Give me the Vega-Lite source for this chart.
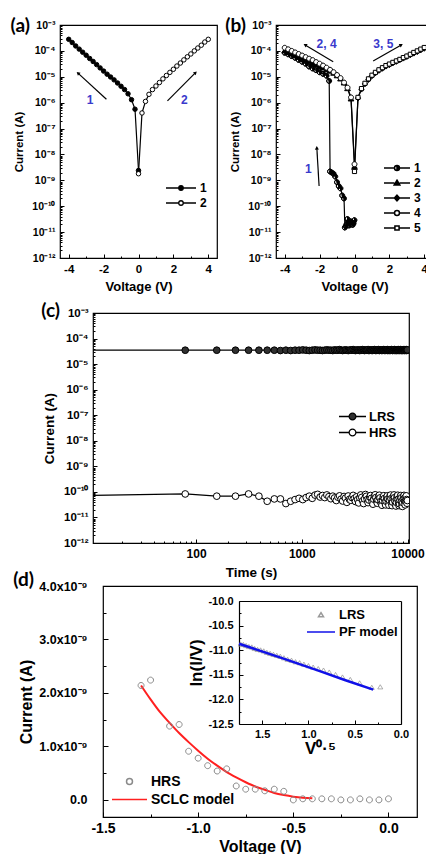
{
"$schema":"https://vega.github.io/schema/vega-lite/v6.json",
"background":"white",
"padding":{"left":0,"top":16,"right":0,"bottom":0},
"config":{"font":"Liberation Sans","view":{"stroke":"black","strokeWidth":1.2},
 "axis":{"labelFont":"Liberation Sans","labelFontWeight":"bold","labelColor":"black","titleFont":"Liberation Sans","titleFontWeight":"bold","titleColor":"black","domain":false,"grid":false,"tickColor":"black","tickWidth":1},
 "legend":{"labelFont":"Liberation Sans","labelFontWeight":"bold","labelColor":"black"}},
"datasets":{
"da":[{"s":"1","V":-4,"I":2.8e-4},{"s":"1","V":-3.8,"I":2.1e-4},{"s":"1","V":-3.6,"I":1.55e-4},{"s":"1","V":-3.4,"I":1.17e-4},{"s":"1","V":-3.2,"I":8.9e-5},{"s":"1","V":-3,"I":6.8e-5},{"s":"1","V":-2.8,"I":5.1e-5},{"s":"1","V":-2.6,"I":3.9e-5},{"s":"1","V":-2.4,"I":2.95e-5},{"s":"1","V":-2.2,"I":2.2e-5},{"s":"1","V":-2,"I":1.66e-5},{"s":"1","V":-1.8,"I":1.26e-5},{"s":"1","V":-1.6,"I":9.8e-6},{"s":"1","V":-1.4,"I":7.6e-6},{"s":"1","V":-1.2,"I":5.75e-6},{"s":"1","V":-1,"I":4.3e-6},{"s":"1","V":-0.8,"I":3.2e-6},{"s":"1","V":-0.6,"I":2.2e-6},{"s":"1","V":-0.4,"I":1.3e-6},{"s":"1","V":-0.2,"I":5.6e-7},{"s":"1","V":0,"I":2.4e-9},
{"s":"2","V":0,"I":1.8e-9},{"s":"2","V":0.2,"I":4.0e-7},{"s":"2","V":0.4,"I":1.12e-6},{"s":"2","V":0.6,"I":2.1e-6},{"s":"2","V":0.8,"I":3.2e-6},{"s":"2","V":1,"I":4.4e-6},{"s":"2","V":1.2,"I":6.0e-6},{"s":"2","V":1.4,"I":8.3e-6},{"s":"2","V":1.6,"I":1.12e-5},{"s":"2","V":1.8,"I":1.48e-5},{"s":"2","V":2,"I":1.95e-5},{"s":"2","V":2.2,"I":2.6e-5},{"s":"2","V":2.4,"I":3.4e-5},{"s":"2","V":2.6,"I":4.5e-5},{"s":"2","V":2.8,"I":5.9e-5},{"s":"2","V":3,"I":7.6e-5},{"s":"2","V":3.2,"I":1.0e-4},{"s":"2","V":3.4,"I":1.29e-4},{"s":"2","V":3.6,"I":1.66e-4},{"s":"2","V":3.8,"I":2.2e-4},{"s":"2","V":4,"I":2.8e-4}],
"db":[{"s":"1","V":0,"I":2.9e-11},{"s":"1","V":-0.05,"I":2.2e-11},{"s":"1","V":-0.1,"I":1.9e-11},{"s":"1","V":-0.15,"I":2.4e-11},{"s":"1","V":-0.2,"I":2.6e-11},{"s":"1","V":-0.25,"I":2.3e-11},{"s":"1","V":-0.3,"I":1.8e-11},{"s":"1","V":-0.35,"I":2.5e-11},{"s":"1","V":-0.4,"I":3.2e-11},{"s":"1","V":-0.45,"I":2.0e-11},{"s":"1","V":-0.5,"I":1.7e-11},{"s":"1","V":-0.55,"I":1.5e-11},{"s":"1","V":-0.6,"I":2.0e-10},{"s":"1","V":-0.7,"I":2.6e-10},{"s":"1","V":-0.8,"I":4.9e-10},{"s":"1","V":-0.9,"I":6.0e-10},{"s":"1","V":-1,"I":8.5e-10},{"s":"1","V":-1.1,"I":1.4e-9},{"s":"1","V":-1.2,"I":1.8e-9},{"s":"1","V":-1.3,"I":2.0e-9},{"s":"1","V":-1.4,"I":2.2e-9},{"s":"1","V":-1.45,"I":6.9e-6},{"s":"1","V":-1.6,"I":1.1e-5},{"s":"1","V":-1.8,"I":1.3e-5},{"s":"1","V":-2,"I":1.5e-5},{"s":"1","V":-2.2,"I":1.8e-5},{"s":"1","V":-2.4,"I":2.1e-5},{"s":"1","V":-2.6,"I":2.5e-5},{"s":"1","V":-2.8,"I":3.2e-5},{"s":"1","V":-3,"I":3.8e-5},{"s":"1","V":-3.2,"I":4.5e-5},{"s":"1","V":-3.4,"I":5.4e-5},{"s":"1","V":-3.6,"I":6.3e-5},{"s":"1","V":-3.8,"I":7.4e-5},{"s":"1","V":-4,"I":8.5e-5},
{"s":"2","V":-4,"I":1.0e-4},{"s":"2","V":-3.8,"I":8.7e-5},{"s":"2","V":-3.6,"I":7.6e-5},{"s":"2","V":-3.4,"I":6.6e-5},{"s":"2","V":-3.2,"I":5.8e-5},{"s":"2","V":-3,"I":5.0e-5},{"s":"2","V":-2.8,"I":4.4e-5},{"s":"2","V":-2.6,"I":3.8e-5},{"s":"2","V":-2.4,"I":3.3e-5},{"s":"2","V":-2.2,"I":2.9e-5},{"s":"2","V":-2,"I":2.5e-5},{"s":"2","V":-1.8,"I":2.2e-5},{"s":"2","V":-1.6,"I":1.9e-5},{"s":"2","V":-1.4,"I":1.66e-5},{"s":"2","V":-1.2,"I":1.38e-5},{"s":"2","V":-1,"I":1.1e-5},{"s":"2","V":-0.8,"I":8.3e-6},{"s":"2","V":-0.6,"I":5.8e-6},{"s":"2","V":-0.4,"I":3.5e-6},{"s":"2","V":-0.2,"I":1.4e-6},{"s":"2","V":0,"I":3.2e-9},
{"s":"3","V":0,"I":3.0e-9},{"s":"3","V":0.2,"I":1.5e-6},{"s":"3","V":0.4,"I":3.3e-6},{"s":"3","V":0.6,"I":5.3e-6},{"s":"3","V":0.8,"I":7.8e-6},{"s":"3","V":1,"I":1.08e-5},{"s":"3","V":1.2,"I":1.4e-5},{"s":"3","V":1.4,"I":1.75e-5},{"s":"3","V":1.6,"I":2.1e-5},{"s":"3","V":1.8,"I":2.55e-5},{"s":"3","V":2,"I":2.9e-5},{"s":"3","V":2.2,"I":3.4e-5},{"s":"3","V":2.4,"I":3.9e-5},{"s":"3","V":2.6,"I":4.5e-5},{"s":"3","V":2.8,"I":5.2e-5},{"s":"3","V":3,"I":6.0e-5},{"s":"3","V":3.2,"I":7.0e-5},{"s":"3","V":3.4,"I":8.1e-5},{"s":"3","V":3.6,"I":9.3e-5},{"s":"3","V":3.8,"I":1.08e-4},{"s":"3","V":4,"I":1.25e-4},
{"s":"4","V":-4,"I":1.32e-4},{"s":"4","V":-3.8,"I":1.15e-4},{"s":"4","V":-3.6,"I":1.0e-4},{"s":"4","V":-3.4,"I":8.7e-5},{"s":"4","V":-3.2,"I":7.6e-5},{"s":"4","V":-3,"I":6.6e-5},{"s":"4","V":-2.8,"I":5.75e-5},{"s":"4","V":-2.6,"I":5.0e-5},{"s":"4","V":-2.4,"I":4.4e-5},{"s":"4","V":-2.2,"I":3.7e-5},{"s":"4","V":-2,"I":3.2e-5},{"s":"4","V":-1.8,"I":2.7e-5},{"s":"4","V":-1.6,"I":2.24e-5},{"s":"4","V":-1.4,"I":1.86e-5},{"s":"4","V":-1.2,"I":1.51e-5},{"s":"4","V":-1,"I":1.17e-5},{"s":"4","V":-0.8,"I":8.9e-6},{"s":"4","V":-0.6,"I":6.0e-6},{"s":"4","V":-0.4,"I":3.8e-6},{"s":"4","V":-0.2,"I":1.6e-6},{"s":"4","V":0,"I":4.2e-9},
{"s":"5","V":0,"I":2.2e-9},{"s":"5","V":0.2,"I":1.6e-6},{"s":"5","V":0.4,"I":3.5e-6},{"s":"5","V":0.6,"I":5.6e-6},{"s":"5","V":0.8,"I":8.3e-6},{"s":"5","V":1,"I":1.15e-5},{"s":"5","V":1.2,"I":1.48e-5},{"s":"5","V":1.4,"I":1.86e-5},{"s":"5","V":1.6,"I":2.24e-5},{"s":"5","V":1.8,"I":2.7e-5},{"s":"5","V":2,"I":3.1e-5},{"s":"5","V":2.2,"I":3.6e-5},{"s":"5","V":2.4,"I":4.1e-5},{"s":"5","V":2.6,"I":4.7e-5},{"s":"5","V":2.8,"I":5.5e-5},{"s":"5","V":3,"I":6.3e-5},{"s":"5","V":3.2,"I":7.4e-5},{"s":"5","V":3.4,"I":8.7e-5},{"s":"5","V":3.6,"I":1.0e-4},{"s":"5","V":3.8,"I":1.17e-4},{"s":"5","V":4,"I":1.35e-4}],
"dc":[{"t":1,"LRS":3.5e-5,"HRS":6.3e-11},{"t":79,"LRS":3.5e-5,"HRS":8.3e-11},{"t":157,"LRS":3.5e-5,"HRS":6.8e-11},{"t":236,"LRS":3.5e-5,"HRS":6.8e-11},{"t":314,"LRS":3.5e-5,"HRS":8.3e-11},{"t":393,"LRS":3.5e-5,"HRS":6.8e-11},{"t":471,"LRS":3.5e-5,"HRS":4.3e-11},{"t":550,"LRS":3.5e-5,"HRS":5.3e-11},{"t":628,"LRS":3.4e-5,"HRS":5.3e-11},{"t":707,"LRS":3.5e-5,"HRS":3.5e-11},{"t":785,"LRS":3.4e-5,"HRS":4.3e-11},{"t":864,"LRS":3.5e-5,"HRS":5.0e-11},{"t":942,"LRS":3.5e-5,"HRS":5.6e-11},{"t":1021,"LRS":3.6e-5,"HRS":5.0e-11},{"t":1099,"LRS":3.5e-5,"HRS":6.0e-11},{"t":1178,"LRS":3.4e-5,"HRS":6.8e-11},{"t":1256,"LRS":3.5e-5,"HRS":5.6e-11},{"t":1335,"LRS":3.6e-5,"HRS":7.5e-11},{"t":1413,"LRS":3.5e-5,"HRS":8.0e-11},{"t":1492,"LRS":3.5e-5,"HRS":6.3e-11},{"t":1570,"LRS":3.4e-5,"HRS":7.2e-11},{"t":1649,"LRS":3.5e-5,"HRS":6.0e-11},{"t":1727,"LRS":3.6e-5,"HRS":7.6e-11},{"t":1806,"LRS":3.5e-5,"HRS":6.5e-11},{"t":1884,"LRS":3.5e-5,"HRS":5.4e-11},{"t":1963,"LRS":3.4e-5,"HRS":6.8e-11},{"t":2041,"LRS":3.6e-5,"HRS":5.8e-11},{"t":2120,"LRS":3.5e-5,"HRS":4.6e-11},{"t":2198,"LRS":3.5e-5,"HRS":6.2e-11},{"t":2277,"LRS":3.7e-5,"HRS":7.0e-11},{"t":2355,"LRS":3.5e-5,"HRS":5.2e-11},{"t":2434,"LRS":3.4e-5,"HRS":4.4e-11},{"t":2512,"LRS":3.5e-5,"HRS":6.6e-11},{"t":2591,"LRS":3.6e-5,"HRS":5.7e-11},{"t":2669,"LRS":3.5e-5,"HRS":3.9e-11},{"t":2748,"LRS":3.4e-5,"HRS":6.9e-11},{"t":2826,"LRS":3.5e-5,"HRS":5.1e-11},{"t":2905,"LRS":3.6e-5,"HRS":4.7e-11},{"t":2983,"LRS":3.5e-5,"HRS":6.0e-11},{"t":3062,"LRS":3.7e-5,"HRS":7.3e-11},{"t":3140,"LRS":3.5e-5,"HRS":5.5e-11},{"t":3219,"LRS":3.4e-5,"HRS":4.2e-11},{"t":3297,"LRS":3.5e-5,"HRS":6.4e-11},{"t":3376,"LRS":3.6e-5,"HRS":5.0e-11},{"t":3454,"LRS":3.5e-5,"HRS":3.7e-11},{"t":3533,"LRS":3.4e-5,"HRS":5.9e-11},{"t":3611,"LRS":3.6e-5,"HRS":7.6e-11},{"t":3690,"LRS":3.5e-5,"HRS":6.1e-11},{"t":3768,"LRS":3.7e-5,"HRS":4.5e-11},{"t":3847,"LRS":3.5e-5,"HRS":3.5e-11},{"t":3925,"LRS":3.4e-5,"HRS":5.3e-11},{"t":4004,"LRS":3.6e-5,"HRS":7.9e-11},{"t":4082,"LRS":3.5e-5,"HRS":6.7e-11},{"t":4161,"LRS":3.5e-5,"HRS":5.0e-11},{"t":4239,"LRS":3.7e-5,"HRS":3.8e-11},{"t":4318,"LRS":3.4e-5,"HRS":4.8e-11},{"t":4396,"LRS":3.5e-5,"HRS":6.3e-11},{"t":4475,"LRS":3.6e-5,"HRS":7.2e-11},{"t":4553,"LRS":3.5e-5,"HRS":5.6e-11},{"t":4632,"LRS":3.4e-5,"HRS":4.1e-11},{"t":4710,"LRS":3.6e-5,"HRS":3.3e-11},{"t":4789,"LRS":3.5e-5,"HRS":5.2e-11},{"t":4867,"LRS":3.7e-5,"HRS":6.9e-11},{"t":4946,"LRS":3.5e-5,"HRS":7.7e-11},{"t":5024,"LRS":3.4e-5,"HRS":6.0e-11},{"t":5103,"LRS":3.6e-5,"HRS":4.4e-11},{"t":5181,"LRS":3.5e-5,"HRS":3.6e-11},{"t":5260,"LRS":3.5e-5,"HRS":4.9e-11},{"t":5338,"LRS":3.7e-5,"HRS":6.5e-11},{"t":5417,"LRS":3.4e-5,"HRS":7.4e-11},{"t":5495,"LRS":3.5e-5,"HRS":5.8e-11},{"t":5574,"LRS":3.6e-5,"HRS":4.2e-11},{"t":5652,"LRS":3.5e-5,"HRS":3.4e-11},{"t":5731,"LRS":3.4e-5,"HRS":3.0e-11},{"t":5809,"LRS":3.6e-5,"HRS":4.6e-11},{"t":5888,"LRS":3.5e-5,"HRS":6.2e-11},{"t":5966,"LRS":3.7e-5,"HRS":7.1e-11},{"t":6045,"LRS":3.5e-5,"HRS":5.5e-11},{"t":6123,"LRS":3.4e-5,"HRS":3.9e-11},{"t":6202,"LRS":3.6e-5,"HRS":3.1e-11},{"t":6280,"LRS":3.5e-5,"HRS":4.3e-11},{"t":6359,"LRS":3.5e-5,"HRS":5.9e-11},{"t":6437,"LRS":3.7e-5,"HRS":7.0e-11},{"t":6516,"LRS":3.4e-5,"HRS":5.2e-11},{"t":6594,"LRS":3.5e-5,"HRS":3.8e-11},{"t":6673,"LRS":3.6e-5,"HRS":3.0e-11},{"t":6751,"LRS":3.5e-5,"HRS":4.7e-11},{"t":6830,"LRS":3.4e-5,"HRS":6.6e-11},{"t":6908,"LRS":3.6e-5,"HRS":7.5e-11},{"t":6987,"LRS":3.5e-5,"HRS":5.4e-11},{"t":7065,"LRS":3.7e-5,"HRS":3.6e-11},{"t":7144,"LRS":3.5e-5,"HRS":2.9e-11},{"t":7222,"LRS":3.4e-5,"HRS":4.0e-11},{"t":7301,"LRS":3.6e-5,"HRS":5.7e-11},{"t":7379,"LRS":3.5e-5,"HRS":6.8e-11},{"t":7458,"LRS":3.5e-5,"HRS":7.6e-11},{"t":7536,"LRS":3.7e-5,"HRS":5.9e-11},{"t":7615,"LRS":3.4e-5,"HRS":4.3e-11},{"t":7693,"LRS":3.5e-5,"HRS":3.2e-11},{"t":7772,"LRS":3.6e-5,"HRS":2.8e-11},{"t":7850,"LRS":3.5e-5,"HRS":3.9e-11},{"t":7929,"LRS":3.4e-5,"HRS":5.5e-11},{"t":8007,"LRS":3.6e-5,"HRS":6.9e-11},{"t":8086,"LRS":3.5e-5,"HRS":7.4e-11},{"t":8164,"LRS":3.7e-5,"HRS":5.1e-11},{"t":8243,"LRS":3.5e-5,"HRS":3.7e-11},{"t":8321,"LRS":3.4e-5,"HRS":2.9e-11},{"t":8400,"LRS":3.6e-5,"HRS":3.4e-11},{"t":8478,"LRS":3.5e-5,"HRS":4.8e-11},{"t":8557,"LRS":3.5e-5,"HRS":6.4e-11},{"t":8635,"LRS":3.7e-5,"HRS":7.2e-11},{"t":8714,"LRS":3.4e-5,"HRS":5.8e-11},{"t":8792,"LRS":3.5e-5,"HRS":4.1e-11},{"t":8871,"LRS":3.6e-5,"HRS":3.0e-11},{"t":8949,"LRS":3.5e-5,"HRS":2.7e-11},{"t":9028,"LRS":3.4e-5,"HRS":3.8e-11},{"t":9106,"LRS":3.6e-5,"HRS":5.3e-11},{"t":9185,"LRS":3.5e-5,"HRS":6.7e-11},{"t":9263,"LRS":3.7e-5,"HRS":7.3e-11},{"t":9342,"LRS":3.5e-5,"HRS":5.6e-11},{"t":9420,"LRS":3.4e-5,"HRS":4.0e-11},{"t":9499,"LRS":3.6e-5,"HRS":3.1e-11},{"t":9577,"LRS":3.5e-5,"HRS":4.4e-11},{"t":9656,"LRS":3.5e-5,"HRS":6.0e-11},{"t":9734,"LRS":3.7e-5,"HRS":7.0e-11},{"t":9813,"LRS":3.4e-5,"HRS":5.0e-11},{"t":9891,"LRS":3.5e-5,"HRS":3.6e-11},{"t":9970,"LRS":3.6e-5,"HRS":4.6e-11}],
"dd":[{"s":"HRS","V":-1.3,"I":2.14e-9},{"s":"HRS","V":-1.25,"I":2.24e-9},{"s":"HRS","V":-1.15,"I":1.38e-9},{"s":"HRS","V":-1.1,"I":1.41e-9},{"s":"HRS","V":-1.05,"I":0.91e-9},{"s":"HRS","V":-1,"I":0.78e-9},{"s":"HRS","V":-0.95,"I":0.64e-9},{"s":"HRS","V":-0.9,"I":0.54e-9},{"s":"HRS","V":-0.85,"I":0.58e-9},{"s":"HRS","V":-0.8,"I":0.26e-9},{"s":"HRS","V":-0.75,"I":0.2e-9},{"s":"HRS","V":-0.7,"I":0.2e-9},{"s":"HRS","V":-0.65,"I":0.17e-9},{"s":"HRS","V":-0.6,"I":0.2e-9},{"s":"HRS","V":-0.55,"I":0.16e-9},{"s":"HRS","V":-0.5,"I":0.0},{"s":"HRS","V":-0.45,"I":0.02e-9},{"s":"HRS","V":-0.4,"I":0.02e-9},{"s":"HRS","V":-0.35,"I":0.02e-9},{"s":"HRS","V":-0.3,"I":0.02e-9},{"s":"HRS","V":-0.25,"I":0.0},{"s":"HRS","V":-0.2,"I":0.0},{"s":"HRS","V":-0.15,"I":0.02e-9},{"s":"HRS","V":-0.1,"I":0.0},{"s":"HRS","V":-0.05,"I":0.0},{"s":"HRS","V":0,"I":0.02e-9}],
"dfit":[{"V":-1.3,"I":2.14e-9},{"V":-1.25,"I":1.88e-9},{"V":-1.2,"I":1.64e-9},{"V":-1.15,"I":1.44e-9},{"V":-1.1,"I":1.25e-9},{"V":-1.05,"I":1.08e-9},{"V":-1,"I":0.92e-9},{"V":-0.95,"I":0.77e-9},{"V":-0.9,"I":0.64e-9},{"V":-0.85,"I":0.52e-9},{"V":-0.8,"I":0.42e-9},{"V":-0.75,"I":0.33e-9},{"V":-0.7,"I":0.25e-9},{"V":-0.65,"I":0.19e-9},{"V":-0.6,"I":0.13e-9},{"V":-0.55,"I":0.09e-9},{"V":-0.5,"I":0.06e-9},{"V":-0.45,"I":0.04e-9},{"V":-0.4,"I":0.03e-9}],
"dins":[{"s":"LRS","x":0.224,"y":-11.75},{"s":"LRS","x":0.316,"y":-11.76},{"s":"LRS","x":0.447,"y":-11.67},{"s":"LRS","x":0.548,"y":-11.6},{"s":"LRS","x":0.632,"y":-11.55},{"s":"LRS","x":0.707,"y":-11.5},{"s":"LRS","x":0.775,"y":-11.45},{"s":"LRS","x":0.837,"y":-11.41},{"s":"LRS","x":0.894,"y":-11.38},{"s":"LRS","x":0.949,"y":-11.35},{"s":"LRS","x":1.0,"y":-11.32},{"s":"LRS","x":1.049,"y":-11.29},{"s":"LRS","x":1.095,"y":-11.26},{"s":"LRS","x":1.14,"y":-11.24},{"s":"LRS","x":1.183,"y":-11.21},{"s":"LRS","x":1.225,"y":-11.19},{"s":"LRS","x":1.265,"y":-11.16},{"s":"LRS","x":1.304,"y":-11.13},{"s":"LRS","x":1.342,"y":-11.11},{"s":"LRS","x":1.378,"y":-11.09},{"s":"LRS","x":1.414,"y":-11.07},{"s":"LRS","x":1.449,"y":-11.05},{"s":"LRS","x":1.483,"y":-11.02},{"s":"LRS","x":1.517,"y":-11.0},{"s":"LRS","x":1.549,"y":-10.99},{"s":"LRS","x":1.581,"y":-10.97},{"s":"LRS","x":1.612,"y":-10.94},{"s":"LRS","x":1.643,"y":-10.93},{"s":"LRS","x":1.673,"y":-10.91},{"s":"LRS","x":1.703,"y":-10.89},{"s":"LRS","x":1.732,"y":-10.88}],
"dpf":[{"x":1.75,"y":-10.87},{"x":1.3,"y":-11.15},{"x":0.9,"y":-11.41},{"x":0.6,"y":-11.61},{"x":0.3,"y":-11.8}]
},
"spacing":6,
"resolve":{"scale":{"fill":"independent","shape":"independent","color":"independent"},"legend":{"fill":"independent","shape":"independent","color":"independent"}},
"vconcat":[
{"spacing":0,"resolve":{"scale":{"fill":"independent","shape":"independent","color":"independent"},"legend":{"fill":"independent","shape":"independent","color":"independent"}},"hconcat":[
 {"width":10,"height":1,"data":{"values":[]},"mark":{"type":"point","opacity":0},"view":{"stroke":null}},
 {"spacing":6,"resolve":{"scale":{"fill":"independent","shape":"independent","color":"independent"},"legend":{"fill":"independent","shape":"independent","color":"independent"}},"hconcat":[
  {"width":157,"height":233,
   "resolve":{"axis":{"x":"independent","y":"independent"}},
   "layer":[
    {"data":{"name":"da"},"mark":{"type":"line","color":"black","strokeWidth":1.2},
     "encoding":{
      "x":{"field":"V","type":"quantitative","scale":{"domain":[-4.5,4.5],"nice":false,"zero":false},
        "axis":{"orient":"bottom","title":"Voltage (V)","values":[-4,-3,-2,-1,0,1,2,3,4],"labelExpr":"datum.value % 2 === 0 ? '' + datum.value : ''","tickSize":{"condition":{"test":"datum.value % 2 === 0","value":-4},"value":-2},"labelFontSize":11.5,"titleFontSize":13,"labelPadding":9,"titlePadding":4,"labelFlush":false,"labelOverlap":false}},
      "y":{"field":"I","type":"quantitative","scale":{"type":"log","domain":[1e-12,1e-3],"nice":false},
        "axis":{"orient":"left","title":"Current (A)","values":[1e-12,2e-12,3e-12,4e-12,5e-12,6e-12,7e-12,8e-12,9e-12,1e-11,2e-11,3e-11,4e-11,5e-11,6e-11,7e-11,8e-11,9e-11,1e-10,2e-10,3e-10,4e-10,5e-10,6e-10,7e-10,8e-10,9e-10,1e-9,2e-9,3e-9,4e-9,5e-9,6e-9,7e-9,8e-9,9e-9,1e-8,2e-8,3e-8,4e-8,5e-8,6e-8,7e-8,8e-8,9e-8,1e-7,2e-7,3e-7,4e-7,5e-7,6e-7,7e-7,8e-7,9e-7,1e-6,2e-6,3e-6,4e-6,5e-6,6e-6,7e-6,8e-6,9e-6,1e-5,2e-5,3e-5,4e-5,5e-5,6e-5,7e-5,8e-5,9e-5,1e-4,2e-4,3e-4,4e-4,5e-4,6e-4,7e-4,8e-4,9e-4,1e-3],
         "labelExpr":"abs(log(datum.value)/LN10-round(log(datum.value)/LN10))<0.01 ? '10'+['⁰','⁻¹','⁻²','⁻³','⁻⁴','⁻⁵','⁻⁶','⁻⁷','⁻⁸','⁻⁹','⁻¹⁰','⁻¹¹','⁻¹²'][-round(log(datum.value)/LN10)] : ''",
         "tickSize":{"condition":{"test":"abs(log(datum.value)/LN10-round(log(datum.value)/LN10))<0.01","value":-4},"value":-2},"labelFontSize":10.5,"titleFontSize":11.5,"labelPadding":9,"titlePadding":7,"labelFlush":false,"labelOverlap":false}},
      "detail":{"field":"s"}}},
    {"data":{"name":"da"},"mark":{"type":"point","size":20,"stroke":"black","strokeWidth":1,"opacity":1,"fillOpacity":1},
     "encoding":{"x":{"field":"V","type":"quantitative","axis":null},"y":{"field":"I","type":"quantitative","axis":null},
      "fill":{"field":"s","type":"nominal","scale":{"domain":["1","2"],"range":["black","white"]},
       "legend":{"orient":"none","legendX":105,"legendY":156,"title":null,"symbolType":"M-1,0L-0.15,0M0.15,0L1,0M0.15,0A0.15,0.15 0 1,1 -0.15,0A0.15,0.15 0 1,1 0.15,0Z","symbolSize":900,"symbolStrokeColor":"black","symbolStrokeWidth":1.3,"labelFontSize":12,"labelOffset":3,"rowPadding":1,"clipHeight":14}}}},
    {"data":{"values":[{"x":-1.84,"y":1.35e-6,"x2":-3.47,"y2":1.38e-5},{"x":1.66,"y":1.17e-6,"x2":3.27,"y2":1.45e-5}]},"mark":{"type":"rule","color":"black","strokeWidth":1.2},
     "encoding":{"x":{"field":"x","type":"quantitative","axis":null},"y":{"field":"y","type":"quantitative","axis":null},"x2":{"field":"x2"},"y2":{"field":"y2"}}},
    {"data":{"values":[{"x":-3.47,"y":1.38e-5}]},"mark":{"type":"point","shape":"triangle-up","filled":true,"color":"black","opacity":1,"size":16,"angle":312},
     "encoding":{"x":{"field":"x","type":"quantitative","axis":null},"y":{"field":"y","type":"quantitative","axis":null}}},
    {"data":{"values":[{"x":3.27,"y":1.45e-5}]},"mark":{"type":"point","shape":"triangle-up","filled":true,"color":"black","opacity":1,"size":16,"angle":45},
     "encoding":{"x":{"field":"x","type":"quantitative","axis":null},"y":{"field":"y","type":"quantitative","axis":null}}},
    {"data":{"values":[{"x":-2.77,"y":1.26e-6,"t":"1"},{"x":2.63,"y":1.26e-6,"t":"2"}]},"mark":{"type":"text","color":"#3a3acc","font":"Liberation Sans","fontWeight":"bold","fontSize":12},
     "encoding":{"x":{"field":"x","type":"quantitative","axis":null},"y":{"field":"y","type":"quantitative","axis":null},"text":{"field":"t"}}},
    {"data":{"values":[{"t":"(a)"}]},"mark":{"type":"text","font":"Lato","fontWeight":"bold","fontSize":19,"align":"right","baseline":"middle","dx":-30,"dy":1,"color":"black"},
     "encoding":{"x":{"datum":-4.5,"type":"quantitative","axis":null},"y":{"datum":0.001,"type":"quantitative","axis":null},"text":{"field":"t"}}}
   ]},
  {"width":157,"height":233,
   "resolve":{"scale":{"shape":"independent","fill":"independent"},"axis":{"x":"independent","y":"independent"}},
   "layer":[
    {"data":{"name":"db"},"mark":{"type":"line","color":"black","strokeWidth":1.2},
     "encoding":{
      "x":{"field":"V","type":"quantitative","scale":{"domain":[-4.5,4.5],"nice":false,"zero":false},
        "axis":{"orient":"bottom","title":"Voltage (V)","values":[-4,-3,-2,-1,0,1,2,3,4],"labelExpr":"datum.value % 2 === 0 ? '' + datum.value : ''","tickSize":{"condition":{"test":"datum.value % 2 === 0","value":-4},"value":-2},"labelFontSize":11.5,"titleFontSize":13,"labelPadding":9,"titlePadding":4,"labelFlush":false,"labelOverlap":false}},
      "y":{"field":"I","type":"quantitative","scale":{"type":"log","domain":[1e-12,1e-3],"nice":false},
        "axis":{"orient":"left","title":"Current (A)","values":[1e-12,2e-12,3e-12,4e-12,5e-12,6e-12,7e-12,8e-12,9e-12,1e-11,2e-11,3e-11,4e-11,5e-11,6e-11,7e-11,8e-11,9e-11,1e-10,2e-10,3e-10,4e-10,5e-10,6e-10,7e-10,8e-10,9e-10,1e-9,2e-9,3e-9,4e-9,5e-9,6e-9,7e-9,8e-9,9e-9,1e-8,2e-8,3e-8,4e-8,5e-8,6e-8,7e-8,8e-8,9e-8,1e-7,2e-7,3e-7,4e-7,5e-7,6e-7,7e-7,8e-7,9e-7,1e-6,2e-6,3e-6,4e-6,5e-6,6e-6,7e-6,8e-6,9e-6,1e-5,2e-5,3e-5,4e-5,5e-5,6e-5,7e-5,8e-5,9e-5,1e-4,2e-4,3e-4,4e-4,5e-4,6e-4,7e-4,8e-4,9e-4,1e-3],
         "labelExpr":"abs(log(datum.value)/LN10-round(log(datum.value)/LN10))<0.01 ? '10'+['⁰','⁻¹','⁻²','⁻³','⁻⁴','⁻⁵','⁻⁶','⁻⁷','⁻⁸','⁻⁹','⁻¹⁰','⁻¹¹','⁻¹²'][-round(log(datum.value)/LN10)] : ''",
         "tickSize":{"condition":{"test":"abs(log(datum.value)/LN10-round(log(datum.value)/LN10))<0.01","value":-4},"value":-2},"labelFontSize":10.5,"titleFontSize":11.5,"labelPadding":9,"titlePadding":7,"labelFlush":false,"labelOverlap":false}},
      "detail":{"field":"s"}}},
    {"data":{"name":"db"},"mark":{"type":"point","size":676,"stroke":"black","strokeWidth":1,"opacity":1,"fillOpacity":1},
     "encoding":{"x":{"field":"V","type":"quantitative","axis":null},"y":{"field":"I","type":"quantitative","axis":null},
      "fill":{"field":"s","type":"nominal","scale":{"domain":["1","2","3","4","5"],"range":["black","black","black","white","white"]},"legend":null},
      "shape":{"field":"s","type":"nominal","scale":{"domain":["1","2","3","4","5"],"range":["M0.19,0A0.19,0.19 0 1,1 -0.19,0A0.19,0.19 0 1,1 0.19,0ZM0,-0.19A0.19,0.19 0 0,0 0,0.19Z","M0,-0.22L0.22,0.16L-0.22,0.16Z","M0,-0.22L0.2,0L0,0.22L-0.2,0Z","M0.19,0A0.19,0.19 0 1,1 -0.19,0A0.19,0.19 0 1,1 0.19,0Z","M-0.16,-0.16L0.16,-0.16L0.16,0.16L-0.16,0.16Z"]},"legend":null}}},
    {"data":{"values":[]},"mark":{"type":"point","size":676,"stroke":"black","strokeWidth":1,"opacity":1,"fillOpacity":1},
     "encoding":{
      "fill":{"field":"s","type":"nominal","scale":{"domain":["1","2","3","4","5"],"range":["black","black","black","white","white"]},
       "legend":{"orient":"none","legendX":107,"legendY":136,"title":null,"symbolSize":676,"labelFontSize":12,"labelOffset":3,"rowPadding":1,"clipHeight":14,"encode":{"symbols":{"update":{"stroke":{"value":"black"},"strokeWidth":{"value":1.2}}}}}},
      "shape":{"field":"s","type":"nominal","scale":{"domain":["1","2","3","4","5"],"range":["M-1,0L-0.19,0M0.19,0L1,0M0.19,0A0.19,0.19 0 1,1 -0.19,0A0.19,0.19 0 1,1 0.19,0ZM0,-0.19A0.19,0.19 0 0,0 0,0.19Z","M-1,0L-0.2,0M0.2,0L1,0M0,-0.22L0.22,0.16L-0.22,0.16Z","M-1,0L-0.2,0M0.2,0L1,0M0,-0.22L0.2,0L0,0.22L-0.2,0Z","M-1,0L-0.19,0M0.19,0L1,0M0.19,0A0.19,0.19 0 1,1 -0.19,0A0.19,0.19 0 1,1 0.19,0Z","M-1,0L-0.16,0M0.16,0L1,0M-0.16,-0.16L0.16,-0.16L0.16,0.16L-0.16,0.16Z"]},
       "legend":{"orient":"none","legendX":107,"legendY":136,"title":null,"symbolSize":676,"labelFontSize":12,"labelOffset":3,"rowPadding":1,"clipHeight":14,"encode":{"symbols":{"update":{"stroke":{"value":"black"},"strokeWidth":{"value":1.2}}}}}}}},
    {"data":{"values":[{"x":-1.22,"y":3.8e-5,"x2":-2.83,"y2":1.7e-4},{"x":1.07,"y":4.1e-5,"x2":2.68,"y2":1.7e-4},{"x":-2.03,"y":6e-10,"x2":-2.16,"y2":1.8e-8}]},"mark":{"type":"rule","color":"black","strokeWidth":1.2},
     "encoding":{"x":{"field":"x","type":"quantitative","axis":null},"y":{"field":"y","type":"quantitative","axis":null},"x2":{"field":"x2"},"y2":{"field":"y2"}}},
    {"data":{"values":[{"x":-2.83,"y":1.7e-4}]},"mark":{"type":"point","shape":"triangle-up","filled":true,"color":"black","opacity":1,"size":16,"angle":301},
     "encoding":{"x":{"field":"x","type":"quantitative","axis":null},"y":{"field":"y","type":"quantitative","axis":null}}},
    {"data":{"values":[{"x":2.68,"y":1.7e-4}]},"mark":{"type":"point","shape":"triangle-up","filled":true,"color":"black","opacity":1,"size":16,"angle":60},
     "encoding":{"x":{"field":"x","type":"quantitative","axis":null},"y":{"field":"y","type":"quantitative","axis":null}}},
    {"data":{"values":[{"x":-2.16,"y":1.8e-8}]},"mark":{"type":"point","shape":"triangle-up","filled":true,"color":"black","opacity":1,"size":16,"angle":357},
     "encoding":{"x":{"field":"x","type":"quantitative","axis":null},"y":{"field":"y","type":"quantitative","axis":null}}},
    {"data":{"values":[{"x":-1.6,"y":1.8e-4,"t":"2, 4"},{"x":1.65,"y":1.8e-4,"t":"3, 5"},{"x":-2.64,"y":2.7e-9,"t":"1"}]},"mark":{"type":"text","color":"#3a3acc","font":"Liberation Sans","fontWeight":"bold","fontSize":12},
     "encoding":{"x":{"field":"x","type":"quantitative","axis":null},"y":{"field":"y","type":"quantitative","axis":null},"text":{"field":"t"}}},
    {"data":{"values":[{"t":"(b)"}]},"mark":{"type":"text","font":"Lato","fontWeight":"bold","fontSize":19,"align":"right","baseline":"middle","dx":-30,"dy":1,"color":"black"},
     "encoding":{"x":{"datum":-4.5,"type":"quantitative","axis":null},"y":{"datum":0.001,"type":"quantitative","axis":null},"text":{"field":"t"}}}
   ]}
 ]}
]},
{"spacing":-10,"resolve":{"scale":{"fill":"independent","shape":"independent","color":"independent"},"legend":{"fill":"independent","shape":"independent","color":"independent"}},"vconcat":[
 {"spacing":0,"resolve":{"scale":{"fill":"independent","shape":"independent","color":"independent"},"legend":{"fill":"independent","shape":"independent","color":"independent"}},"hconcat":[
  {"width":40,"height":1,"data":{"values":[]},"mark":{"type":"point","opacity":0},"view":{"stroke":null}},
  {"width":316,"height":230,
   "resolve":{"axis":{"x":"independent","y":"independent"}},
   "layer":[
    {"data":{"name":"dc"},"transform":[{"fold":["LRS","HRS"],"as":["s","I"]}],"mark":{"type":"line","color":"black","strokeWidth":1.2,"clip":true},
     "encoding":{
      "x":{"field":"t","type":"quantitative","scale":{"type":"log","domain":[10.6,10330],"nice":false},
        "axis":{"orient":"bottom","title":"Time (s)","values":[20,30,40,50,60,70,80,90,100,200,300,400,500,600,700,800,900,1000,2000,3000,4000,5000,6000,7000,8000,9000,10000],"labelExpr":"indexof([100,1000,10000], datum.value) >= 0 ? '' + datum.value : ''","tickSize":{"condition":{"test":"indexof([100,1000,10000], datum.value) >= 0","value":-4},"value":-2},"labelFontSize":12,"titleFontSize":13.5,"labelPadding":9,"titlePadding":4,"labelFlush":false,"labelOverlap":false}},
      "y":{"field":"I","type":"quantitative","scale":{"type":"log","domain":[1e-12,1e-3],"nice":false},
        "axis":{"orient":"left","title":"Current (A)","values":[1e-12,2e-12,3e-12,4e-12,5e-12,6e-12,7e-12,8e-12,9e-12,1e-11,2e-11,3e-11,4e-11,5e-11,6e-11,7e-11,8e-11,9e-11,1e-10,2e-10,3e-10,4e-10,5e-10,6e-10,7e-10,8e-10,9e-10,1e-9,2e-9,3e-9,4e-9,5e-9,6e-9,7e-9,8e-9,9e-9,1e-8,2e-8,3e-8,4e-8,5e-8,6e-8,7e-8,8e-8,9e-8,1e-7,2e-7,3e-7,4e-7,5e-7,6e-7,7e-7,8e-7,9e-7,1e-6,2e-6,3e-6,4e-6,5e-6,6e-6,7e-6,8e-6,9e-6,1e-5,2e-5,3e-5,4e-5,5e-5,6e-5,7e-5,8e-5,9e-5,1e-4,2e-4,3e-4,4e-4,5e-4,6e-4,7e-4,8e-4,9e-4,1e-3],
         "labelExpr":"abs(log(datum.value)/LN10-round(log(datum.value)/LN10))<0.01 ? '10'+['⁰','⁻¹','⁻²','⁻³','⁻⁴','⁻⁵','⁻⁶','⁻⁷','⁻⁸','⁻⁹','⁻¹⁰','⁻¹¹','⁻¹²'][-round(log(datum.value)/LN10)] : ''",
         "tickSize":{"condition":{"test":"abs(log(datum.value)/LN10-round(log(datum.value)/LN10))<0.01","value":-4},"value":-2},"labelFontSize":11.5,"titleFontSize":13.5,"labelPadding":9,"titlePadding":7,"labelFlush":false,"labelOverlap":false}},
      "detail":{"field":"s"}}},
    {"data":{"name":"dc"},"transform":[{"fold":["LRS","HRS"],"as":["s","I"]}],"mark":{"type":"point","size":45,"stroke":"black","strokeWidth":1,"opacity":1,"fillOpacity":1,"clip":true},
     "encoding":{"x":{"field":"t","type":"quantitative","axis":null},"y":{"field":"I","type":"quantitative","axis":null},
      "fill":{"field":"s","type":"nominal","scale":{"domain":["LRS","HRS"],"range":["#303030","white"]},
       "legend":{"orient":"none","legendX":245,"legendY":96,"title":null,"symbolType":"M-1,0L-0.25,0M0.25,0L1,0M0.25,0A0.25,0.25 0 1,1 -0.25,0A0.25,0.25 0 1,1 0.25,0Z","symbolSize":729,"symbolStrokeColor":"black","symbolStrokeWidth":1.3,"labelFontSize":13,"labelOffset":2,"rowPadding":1,"clipHeight":15}}}},
    {"data":{"values":[{"t":"(c)"}]},"mark":{"type":"text","font":"Lato","fontWeight":"bold","fontSize":19,"align":"right","baseline":"middle","dx":-33,"dy":-2,"color":"black"},
     "encoding":{"x":{"datum":10.6,"type":"quantitative","axis":null},"y":{"datum":0.001,"type":"quantitative","axis":null},"text":{"field":"t"}}}
   ]}
 ]},
 {"spacing":0,"resolve":{"scale":{"fill":"independent","shape":"independent","color":"independent"},"legend":{"fill":"independent","shape":"independent","color":"independent"}},"hconcat":[
  {"width":12,"height":1,"data":{"values":[]},"mark":{"type":"point","opacity":0},"view":{"stroke":null}},
  {"width":314,"height":231,
   "resolve":{"scale":{"x":"independent","y":"independent","color":"independent","shape":"independent"},"axis":{"x":"independent","y":"independent"},"legend":{"color":"independent","shape":"independent"}},
   "layer":[
    {"resolve":{"axis":{"x":"independent","y":"independent"}},
     "layer":[
     {"data":{"name":"dfit"},"mark":{"type":"line","color":"#ff2020","strokeWidth":2,"interpolate":"monotone"},
      "encoding":{
       "x":{"field":"V","type":"quantitative","scale":{"domain":[-1.5,0.15],"nice":false,"zero":false},
         "axis":{"orient":"bottom","title":"Voltage (V)","values":[-1.5,-1.25,-1,-0.75,-0.5,-0.25,0],"labelExpr":"abs(datum.value*2-round(datum.value*2))<0.01 ? replace(format(datum.value,'.1f'),'−','-') : ''","tickSize":{"condition":{"test":"abs(datum.value*2-round(datum.value*2))<0.01","value":-5},"value":-3},"labelFontSize":14,"titleFontSize":16,"labelPadding":9,"titlePadding":1,"labelFlush":false,"labelOverlap":false}},
       "y":{"field":"I","type":"quantitative","scale":{"domain":[-0.32e-9,4e-9],"nice":false,"zero":false},
         "axis":{"orient":"left","title":"Current (A)","values":[0,0.5e-9,1e-9,1.5e-9,2e-9,2.5e-9,3e-9,3.5e-9,4e-9],"labelExpr":"abs(datum.value*1e9-round(datum.value*1e9))<0.01 ? (datum.value == 0 ? '0.0' : format(datum.value*1e9,'.1f')+'x10⁻⁹') : ''","tickSize":{"condition":{"test":"abs(datum.value*1e9-round(datum.value*1e9))<0.01","value":-5},"value":-3},"labelFontSize":12.5,"titleFontSize":16,"labelPadding":21,"titlePadding":4,"labelFlush":false,"labelOverlap":false}}}},
     {"data":{"name":"dd"},"mark":{"type":"point","size":1225,"strokeWidth":1,"filled":false,"opacity":1},
      "encoding":{"x":{"field":"V","type":"quantitative","axis":null},"y":{"field":"I","type":"quantitative","axis":null},
       "color":{"field":"s","type":"nominal","scale":{"domain":["HRS","SCLC model"],"range":["#8a8a8a","#ff2020"]},
        "legend":{"orient":"none","legendX":8,"legendY":187,"title":null,"symbolSize":1225,"labelFontSize":14,"labelOffset":3,"rowPadding":1,"clipHeight":17,"encode":{"symbols":{"update":{"strokeWidth":{"signal":"datum.value === 'SCLC model' ? 2.2 : 1"}}}}}},
       "shape":{"field":"s","type":"nominal","scale":{"domain":["HRS","SCLC model"],"range":["M0.17,0A0.17,0.17 0 1,1 -0.17,0A0.17,0.17 0 1,1 0.17,0Z","M-1,0L1,0"]},
        "legend":{"orient":"none","legendX":8,"legendY":187,"title":null,"symbolSize":1225,"labelFontSize":14,"labelOffset":3,"rowPadding":1,"clipHeight":17,"encode":{"symbols":{"update":{"strokeWidth":{"signal":"datum.value === 'SCLC model' ? 2.2 : 1"}}}}}}}},
     {"data":{"values":[{"t":"(d)"}]},"mark":{"type":"text","font":"Lato","fontWeight":"bold","fontSize":19,"align":"right","baseline":"middle","dx":-69,"dy":-6,"color":"black"},
      "encoding":{"x":{"datum":-1.5,"type":"quantitative","axis":null},"y":{"datum":4e-9,"type":"quantitative","axis":null},"text":{"field":"t"}}}
    ]},
    {"resolve":{"axis":{"x":"independent","y":"independent"}},
     "layer":[
     {"data":{"name":"dins"},"mark":{"type":"point","size":784,"strokeWidth":0.8,"filled":false,"opacity":1},
      "encoding":{
       "x":{"field":"x","type":"quantitative","scale":{"domain":[0,1.75],"range":[298,136],"nice":false,"zero":false},
         "axis":{"orient":"bottom","offset":-93,"domain":true,"domainColor":"black","domainWidth":1.2,"title":"V⁰·⁵","values":[0,0.25,0.5,0.75,1,1.25,1.5],"labelExpr":"abs(datum.value*2-round(datum.value*2))<0.01 ? format(datum.value,'.1f') : ''","tickSize":{"condition":{"test":"abs(datum.value*2-round(datum.value*2))<0.01","value":-4},"value":-2},"labelFontSize":11,"titleFontSize":17,"labelPadding":8,"titlePadding":-1,"labelFlush":false,"labelOverlap":false}},
       "y":{"field":"y","type":"quantitative","scale":{"domain":[-12.5,-10],"range":[138,15],"nice":false,"zero":false},
         "axis":{"orient":"left","offset":-136,"domain":true,"domainColor":"black","domainWidth":1.2,"title":"ln(I/V)","values":[-12.5,-12.25,-12,-11.75,-11.5,-11.25,-11,-10.75,-10.5,-10.25,-10],"labelExpr":"abs(datum.value*2-round(datum.value*2))<0.01 ? replace(format(datum.value,'.1f'),'−','-') : ''","tickSize":{"condition":{"test":"abs(datum.value*2-round(datum.value*2))<0.01","value":-4},"value":-2},"labelFontSize":11,"titleFontSize":17,"labelPadding":10,"titlePadding":2,"labelFlush":false,"labelOverlap":false}},
       "color":{"field":"s","type":"nominal","scale":{"domain":["LRS","PF model"],"range":["#9a9a9a","#1010e8"]},
        "legend":{"orient":"none","legendX":203,"legendY":21,"title":null,"symbolSize":784,"labelFontSize":13,"labelOffset":3,"rowPadding":1,"clipHeight":16,"encode":{"symbols":{"update":{"strokeWidth":{"signal":"datum.value === 'PF model' ? 2.5 : 0.8"}}}}}},
       "shape":{"field":"s","type":"nominal","scale":{"domain":["LRS","PF model"],"range":["M0,-0.17L0.18,0.13L-0.18,0.13Z","M-1,0L1,0"]},
        "legend":{"orient":"none","legendX":203,"legendY":21,"title":null,"symbolSize":784,"labelFontSize":13,"labelOffset":3,"rowPadding":1,"clipHeight":16,"encode":{"symbols":{"update":{"strokeWidth":{"signal":"datum.value === 'PF model' ? 2.5 : 0.8"}}}}}}}},
     {"data":{"name":"dpf"},"mark":{"type":"line","color":"#1010e8","strokeWidth":2.5},
      "encoding":{
       "x":{"field":"x","type":"quantitative","axis":{"orient":"top","offset":-15,"domain":true,"domainColor":"black","domainWidth":1.2,"labels":false,"ticks":false,"title":null}},
       "y":{"field":"y","type":"quantitative","axis":{"orient":"right","offset":-16,"domain":true,"domainColor":"black","domainWidth":1.2,"labels":false,"ticks":false,"title":null}}}}
    ]}
   ]}
 ]}
]}
]
}
